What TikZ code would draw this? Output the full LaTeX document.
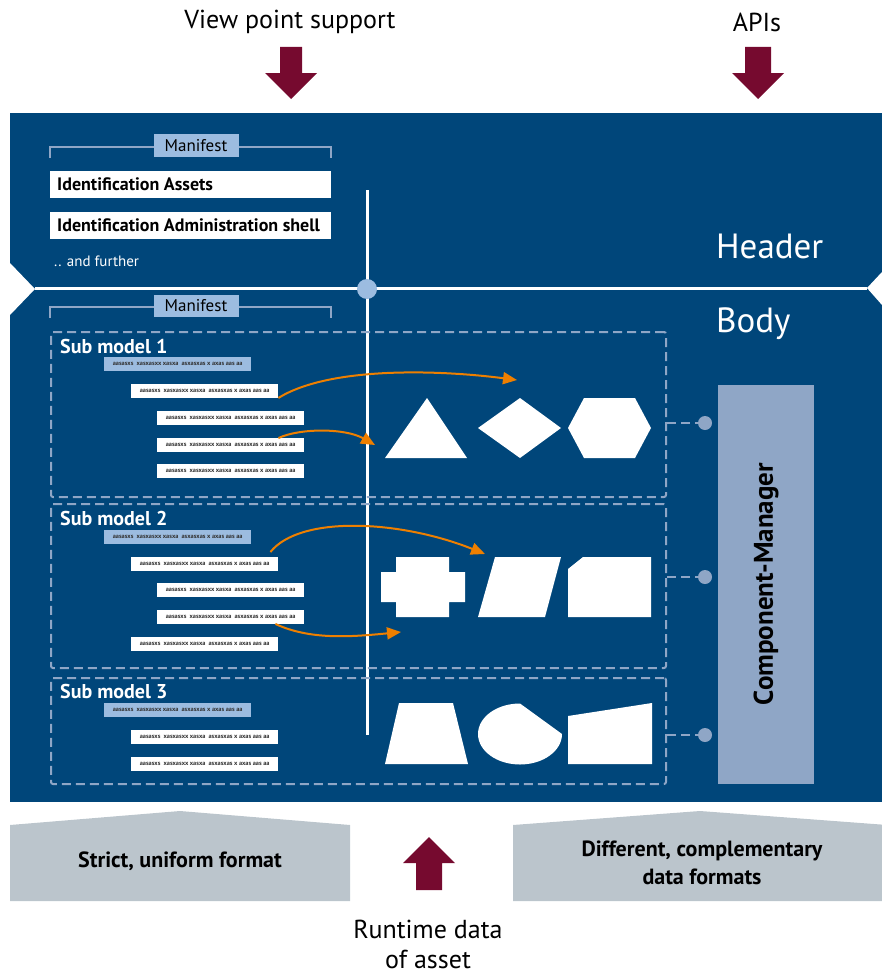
\documentclass[tikz,border=0pt]{standalone}
\usepackage{fontspec}
\setmainfont{PT Sans}
\usetikzlibrary{arrows.meta}
\definecolor{aasblue}{HTML}{00467A}
\definecolor{aasred}{HTML}{760A2F}
\definecolor{aaslight}{HTML}{9CBCE0}
\definecolor{aasgrey}{HTML}{8FA6C6}
\definecolor{fmtgrey}{HTML}{BBC5CC}
\definecolor{aasorange}{HTML}{EE7F00}
\definecolor{rowtext}{HTML}{333333}
\newcommand{\rowtxt}{aasasxs\enspace xasxasxx xasxa\enspace asxasxas x axas aas aa}
\newcommand{\idtxt}[1]{\makebox[267pt][l]{#1}}

\begin{document}
\begin{tikzpicture}[x=1pt,y=-1pt,every node/.style={inner sep=0pt},
  bigtext/.style={font=\fontsize{26}{30}\selectfont,align=center},
  manifest/.style={fill=aaslight,minimum width=85,minimum height=22.5,font=\fontsize{17}{17}\selectfont},
  bracket/.style={draw=aasgrey,line width=2},
  idbox/.style={fill=white,anchor=north west,inner xsep=7pt,minimum height=27,font=\fontsize{18}{18}\selectfont\bfseries},
  smlabel/.style={anchor=west,text=white,font=\fontsize{20}{20}\selectfont\bfseries},
  smframe/.style={anchor=north west,draw=aasgrey,line width=2,dash pattern=on 9pt off 5pt,rounded corners=2,minimum width=615},
  row/.style={anchor=west,fill=white,minimum width=147,minimum height=13.5,text=rowtext,font=\fontsize{6.3}{6.3}\selectfont\bfseries},
  rowhi/.style={row,fill=aaslight},
  flow/.style={draw=aasorange,line width=2,-{Triangle[length=14pt,width=12pt]}},
  form/.style={fill=white},
  dot/.style={circle,fill=aasgrey,minimum size=14},
  dashline/.style={draw=aasgrey,line width=2,dash pattern=on 9pt off 5pt},
  fmt/.style={align=center,font=\fontsize{22}{28}\selectfont\bfseries}]
\useasboundingbox (0,0) rectangle (882,974);

\node[bigtext] (vps) at (290,22) {View point support};
\node[bigtext] (apis) at (757,22) {APIs};
\fill[aasred] (280,47) -- (302,47) -- (302,73) -- (317,73) -- (291,99) -- (265,73) -- (280,73) -- cycle;
\fill[aasred] (745,47) -- (771,47) -- (771,73) -- (784,73) -- (758,99) -- (732,73) -- (745,73) -- cycle;

\fill[aasblue] (10,113) rectangle (882,802);
\fill[white] (10,263) -- (35,289) -- (10,315) -- cycle;
\fill[white] (882,272) -- (867,288) -- (882,305) -- cycle;
\draw[white,line width=3] (35,288) -- (867,288);
\draw[white,line width=3] (367,190) -- (367,735);
\node[circle,fill=aaslight,minimum size=20] (hub) at (367,289) {};

\draw[bracket] (50,158) -- (50,147) -- (331,147) -- (331,158);
\node[manifest] (man1) at (196,145.5) {Manifest};
\node[idbox] (idasset) at (50,171) {\idtxt{Identification Assets}};
\node[idbox] (idshell) at (50,212) {\idtxt{Identification Administration shell}};
\node[anchor=west,text=white,font=\fontsize{15}{15}\selectfont] (further) at (54,261) {.. and further};
\node[anchor=west,text=white,font=\fontsize{35}{35}\selectfont] (header) at (716,246) {Header};
\node[anchor=west,text=white,font=\fontsize{35}{35}\selectfont] (body) at (716,324) {Body};

\draw[bracket] (50,318) -- (50,307) -- (331,307) -- (331,318);
\node[manifest] (man2) at (196,306) {Manifest};

\node[smframe,minimum height=165] (sm1) at (50,331) {};
\node[smframe,minimum height=164] (sm2) at (50,503) {};
\node[smframe,minimum height=106] (sm3) at (50,677) {};
\node[smlabel] (sml1) at (60,346) {Sub model 1};
\node[smlabel] (sml2) at (60,518) {Sub model 2};
\node[smlabel] (sml3) at (60,691) {Sub model 3};

\node[rowhi] (r1a) at (104,364) {\rowtxt};
\node[row] (r1b) at (131,391) {\rowtxt};
\node[row] (r1c) at (157,418) {\rowtxt};
\node[row] (r1d) at (157,445) {\rowtxt};
\node[row] (r1e) at (157,471) {\rowtxt};
\node[rowhi] (r2a) at (104,537) {\rowtxt};
\node[row] (r2b) at (131,564) {\rowtxt};
\node[row] (r2c) at (157,590) {\rowtxt};
\node[row] (r2d) at (157,617) {\rowtxt};
\node[row] (r2e) at (131,644) {\rowtxt};
\node[rowhi] (r3a) at (104,710) {\rowtxt};
\node[row] (r3b) at (131,737) {\rowtxt};
\node[row] (r3c) at (131,764) {\rowtxt};

\coordinate (t1) at (517,380);
\coordinate (t2) at (375,445);
\coordinate (t3) at (485,554);
\coordinate (t4) at (401,632);
\draw[flow] (r1b.south east) .. controls (330,366) and (440,370) .. (t1);
\draw[flow] ([xshift=-26pt]r1d.north east) .. controls (300,428) and (345,428) .. (t2);
\draw[flow] ([xshift=-8pt,yshift=5pt]r2b.north east) .. controls (300,515) and (400,520) .. (t3);
\draw[flow] ([xshift=-29pt]r2d.south east) .. controls (310,640) and (350,637) .. (t4);

\fill[form] (385,458) -- (427,398) -- (467,458) -- cycle;
\fill[form] (478,428) -- (520,398) -- (561,428) -- (520,458) -- cycle;
\fill[form] (568,428) -- (584,398) -- (635,398) -- (651,428) -- (635,458) -- (584,458) -- cycle;
\fill[form] (396,557) -- (449,557) -- (449,572) -- (465,572) -- (465,602) -- (449,602) -- (449,617) -- (396,617) -- (396,602) -- (381,602) -- (381,572) -- (396,572) -- cycle;
\fill[form] (478,617) -- (495,557) -- (561,557) -- (545,617) -- cycle;
\fill[form] (568,617) -- (568,569) -- (583,557) -- (651,557) -- (651,617) -- cycle;
\fill[form] (385,764) -- (399,703) -- (453,703) -- (468,764) -- cycle;
\fill[form] (562,734) arc[start angle=0,end angle=270,x radius=42,y radius=30.5] -- cycle;
\fill[form] (568,764) -- (568,716) -- (652,703) -- (652,764) -- cycle;

\node[fill=aasgrey,minimum width=399,minimum height=96,rotate=90,font=\fontsize{27}{27}\selectfont\bfseries] (cm) at (766,584) {Component-Manager};
\node[dot] (d1) at (705,423) {};
\node[dot] (d2) at (705,577) {};
\node[dot] (d3) at (705,735) {};
\draw[dashline] (sm1.east |- d1) -- (d1);
\draw[dashline] (sm2.east |- d2) -- (d2);
\draw[dashline] (sm3.east |- d3) -- (d3);

\fill[fmtgrey] (10,825) -- (180,811) -- (350,825) -- (350,901) -- (10,901) -- cycle;
\fill[fmtgrey] (513,825) -- (700,811) -- (882,824.6) -- (882,901) -- (513,901) -- cycle;
\node[fmt] (strict) at (180,861) {Strict, uniform format};
\node[fmt] (diff) at (702,863) {Different, complementary\\data formats};
\fill[aasred] (416,890) -- (442,890) -- (442,863) -- (455,863) -- (429,837) -- (403,863) -- (416,863) -- cycle;
\node[bigtext] (runtime) at (428,944) {Runtime data\\of asset};
\end{tikzpicture}
\end{document}
